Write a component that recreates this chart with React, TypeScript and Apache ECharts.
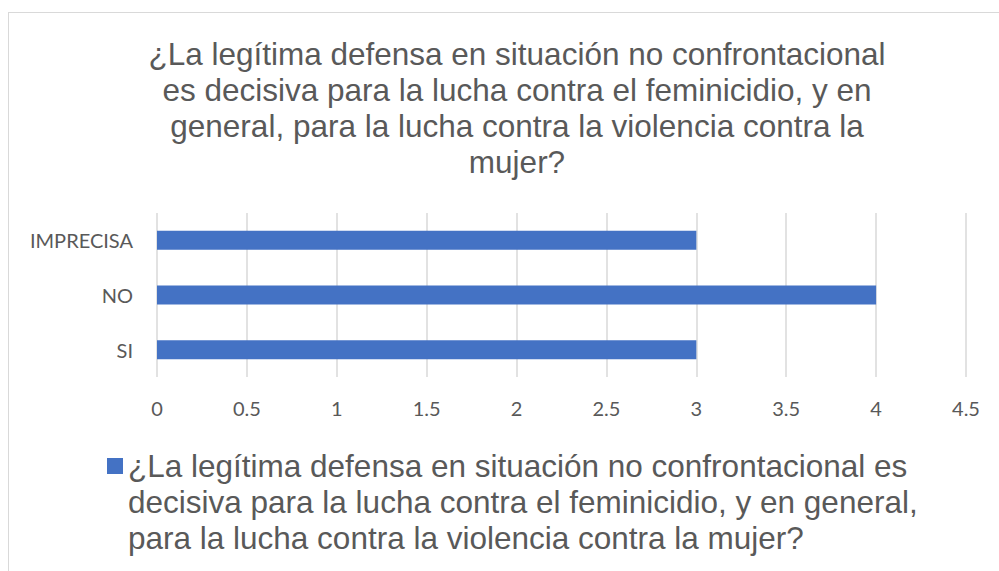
import React, { useEffect, useRef } from "react";
import * as echarts from "echarts";

const categories = ["SI", "NO", "IMPRECISA"];
const values = [3, 4, 3];
const seriesName =
  "¿La legítima defensa en situación no confrontacional es decisiva para la lucha contra el feminicidio, y en general, para la lucha contra la violencia contra la mujer?";
const legendLines = [
  "¿La legítima defensa en situación no confrontacional es",
  "decisiva para la lucha contra el feminicidio, y en general,",
  "para la lucha contra la violencia contra la mujer?",
];
const titleLines = [
  "¿La legítima defensa en situación no confrontacional",
  "es decisiva para la lucha contra el feminicidio, y en",
  "general, para la lucha contra la violencia contra la",
  "mujer?",
];

export default function App() {
  const ref = useRef<HTMLDivElement>(null);
  useEffect(() => {
    if (!ref.current) return;
    const chart = echarts.init(ref.current, undefined, { renderer: "svg" });
    const legendLH = 36;
    chart.setOption({
      animation: false,
      backgroundColor: "transparent",
      title: {
        text: titleLines.join("\n"),
        left: 512,
        top: 31,
        textAlign: "center",
        textStyle: {
          fontFamily: "Liberation Sans",
          fontSize: 31.5,
          fontWeight: "normal",
          color: "#595959",
          lineHeight: 36,
        },
      },
      grid: { left: 157, right: 33, top: 213, bottom: 194 },
      xAxis: {
        type: "value",
        min: 0,
        max: 4.5,
        interval: 0.5,
        axisLine: { show: false },
        axisTick: { show: false },
        splitLine: { lineStyle: { color: "#d9d9d9", width: 1.5 } },
        axisLabel: {
          margin: 21,
          fontFamily: "Lato",
          fontSize: 20,
          color: "#595959",
        },
      },
      yAxis: {
        type: "category",
        data: categories,
        axisLine: { show: false },
        axisTick: { show: false },
        axisLabel: {
          margin: 24,
          fontFamily: "Lato",
          fontSize: 20,
          color: "#595959",
        },
      },
      legend: {
        left: 102,
        top: 453 + 8 - legendLH * 2.5,
        icon: "rect",
        itemWidth: 16,
        itemHeight: 16,
        itemGap: 10,
        formatter: () => "\n\n" + legendLines.join("\n"),
        textStyle: {
          fontFamily: "Liberation Sans",
          fontSize: 31.5,
          color: "#595959",
          lineHeight: legendLH,
        },
        data: [seriesName],
      },
      series: [
        {
          name: seriesName,
          type: "bar",
          data: values,
          barWidth: 19,
          itemStyle: { color: "#4472C4" },
        },
      ],
    });
    return () => chart.dispose();
  }, []);
  return (
    <div style={{ position: "fixed", left: 0, top: 0, width: 999, height: 571, background: "#fff" }}>
      <div
        style={{
          position: "absolute",
          left: 8,
          top: 12,
          width: 1100,
          height: 700,
          border: "1px solid #d9d9d9",
          boxSizing: "border-box",
        }}
      />
      <div ref={ref} style={{ position: "absolute", left: 0, top: 0, width: 999, height: 571 }} />
    </div>
  );
}
